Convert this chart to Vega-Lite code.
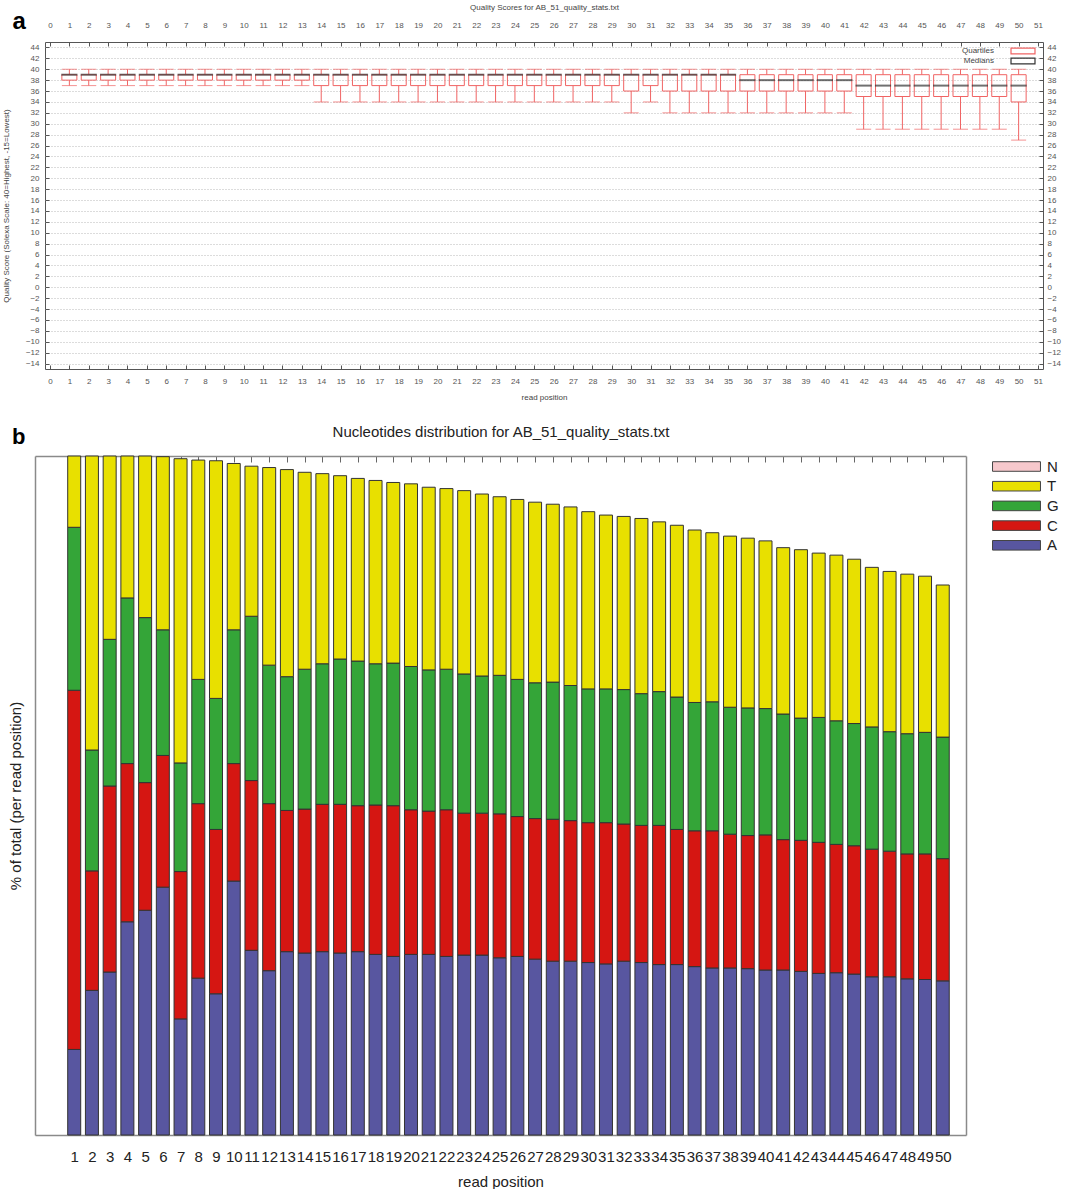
{
  "$schema": "https://vega.github.io/schema/vega-lite/v6.json",
  "padding": {"left": 1, "top": 2, "right": 5, "bottom": 0},
  "background": "white",
  "datasets": {
    "quality": [
      {"pos":1,"lw":37,"q1":38,"med":39,"q3":39,"uw":40},
      {"pos":2,"lw":37,"q1":38,"med":39,"q3":39,"uw":40},
      {"pos":3,"lw":37,"q1":38,"med":39,"q3":39,"uw":40},
      {"pos":4,"lw":37,"q1":38,"med":39,"q3":39,"uw":40},
      {"pos":5,"lw":37,"q1":38,"med":39,"q3":39,"uw":40},
      {"pos":6,"lw":37,"q1":38,"med":39,"q3":39,"uw":40},
      {"pos":7,"lw":37,"q1":38,"med":39,"q3":39,"uw":40},
      {"pos":8,"lw":37,"q1":38,"med":39,"q3":39,"uw":40},
      {"pos":9,"lw":37,"q1":38,"med":39,"q3":39,"uw":40},
      {"pos":10,"lw":37,"q1":38,"med":39,"q3":39,"uw":40},
      {"pos":11,"lw":37,"q1":38,"med":39,"q3":39,"uw":40},
      {"pos":12,"lw":37,"q1":38,"med":39,"q3":39,"uw":40},
      {"pos":13,"lw":37,"q1":38,"med":39,"q3":39,"uw":40},
      {"pos":14,"lw":34,"q1":37,"med":39,"q3":39,"uw":40},
      {"pos":15,"lw":34,"q1":37,"med":39,"q3":39,"uw":40},
      {"pos":16,"lw":34,"q1":37,"med":39,"q3":39,"uw":40},
      {"pos":17,"lw":34,"q1":37,"med":39,"q3":39,"uw":40},
      {"pos":18,"lw":34,"q1":37,"med":39,"q3":39,"uw":40},
      {"pos":19,"lw":34,"q1":37,"med":39,"q3":39,"uw":40},
      {"pos":20,"lw":34,"q1":37,"med":39,"q3":39,"uw":40},
      {"pos":21,"lw":34,"q1":37,"med":39,"q3":39,"uw":40},
      {"pos":22,"lw":34,"q1":37,"med":39,"q3":39,"uw":40},
      {"pos":23,"lw":34,"q1":37,"med":39,"q3":39,"uw":40},
      {"pos":24,"lw":34,"q1":37,"med":39,"q3":39,"uw":40},
      {"pos":25,"lw":34,"q1":37,"med":39,"q3":39,"uw":40},
      {"pos":26,"lw":34,"q1":37,"med":39,"q3":39,"uw":40},
      {"pos":27,"lw":34,"q1":37,"med":39,"q3":39,"uw":40},
      {"pos":28,"lw":34,"q1":37,"med":39,"q3":39,"uw":40},
      {"pos":29,"lw":34,"q1":37,"med":39,"q3":39,"uw":40},
      {"pos":30,"lw":32,"q1":36,"med":39,"q3":39,"uw":40},
      {"pos":31,"lw":34,"q1":37,"med":39,"q3":39,"uw":40},
      {"pos":32,"lw":32,"q1":36,"med":39,"q3":39,"uw":40},
      {"pos":33,"lw":32,"q1":36,"med":39,"q3":39,"uw":40},
      {"pos":34,"lw":32,"q1":36,"med":39,"q3":39,"uw":40},
      {"pos":35,"lw":32,"q1":36,"med":39,"q3":39,"uw":40},
      {"pos":36,"lw":32,"q1":36,"med":38,"q3":39,"uw":40},
      {"pos":37,"lw":32,"q1":36,"med":38,"q3":39,"uw":40},
      {"pos":38,"lw":32,"q1":36,"med":38,"q3":39,"uw":40},
      {"pos":39,"lw":32,"q1":36,"med":38,"q3":39,"uw":40},
      {"pos":40,"lw":32,"q1":36,"med":38,"q3":39,"uw":40},
      {"pos":41,"lw":32,"q1":36,"med":38,"q3":39,"uw":40},
      {"pos":42,"lw":29,"q1":35,"med":37,"q3":39,"uw":40},
      {"pos":43,"lw":29,"q1":35,"med":37,"q3":39,"uw":40},
      {"pos":44,"lw":29,"q1":35,"med":37,"q3":39,"uw":40},
      {"pos":45,"lw":29,"q1":35,"med":37,"q3":39,"uw":40},
      {"pos":46,"lw":29,"q1":35,"med":37,"q3":39,"uw":40},
      {"pos":47,"lw":29,"q1":35,"med":37,"q3":39,"uw":40},
      {"pos":48,"lw":29,"q1":35,"med":37,"q3":39,"uw":40},
      {"pos":49,"lw":29,"q1":35,"med":37,"q3":39,"uw":40},
      {"pos":50,"lw":27,"q1":34,"med":37,"q3":39,"uw":40}
    ],
    "nucleotides": [
      {"pos":1,"A":12.6,"C":52.9,"G":24.0,"T":10.5},
      {"pos":2,"A":21.3,"C":17.6,"G":17.8,"T":43.3},
      {"pos":3,"A":24.0,"C":27.4,"G":21.6,"T":27.0},
      {"pos":4,"A":31.4,"C":23.3,"G":24.4,"T":20.9},
      {"pos":5,"A":33.1,"C":18.8,"G":24.3,"T":23.8},
      {"pos":6,"A":36.5,"C":19.4,"G":18.5,"T":25.5},
      {"pos":7,"A":17.1,"C":21.7,"G":16.0,"T":44.8},
      {"pos":8,"A":23.1,"C":25.7,"G":18.3,"T":32.3},
      {"pos":9,"A":20.8,"C":24.2,"G":19.3,"T":35.0},
      {"pos":10,"A":37.4,"C":17.3,"G":19.7,"T":24.5},
      {"pos":11,"A":27.2,"C":25.0,"G":24.2,"T":22.1},
      {"pos":12,"A":24.2,"C":24.6,"G":20.4,"T":29.1},
      {"pos":13,"A":27.0,"C":20.8,"G":19.7,"T":30.5},
      {"pos":14,"A":26.8,"C":21.2,"G":20.6,"T":29.0},
      {"pos":15,"A":27.0,"C":21.7,"G":20.7,"T":28.0},
      {"pos":16,"A":26.8,"C":21.9,"G":21.4,"T":27.0},
      {"pos":17,"A":27.0,"C":21.5,"G":21.3,"T":26.9},
      {"pos":18,"A":26.6,"C":22.0,"G":20.8,"T":27.0},
      {"pos":19,"A":26.3,"C":22.2,"G":21.0,"T":26.6},
      {"pos":20,"A":26.6,"C":21.3,"G":21.1,"T":26.9},
      {"pos":21,"A":26.6,"C":21.1,"G":20.8,"T":26.9},
      {"pos":22,"A":26.3,"C":21.6,"G":20.7,"T":26.6},
      {"pos":23,"A":26.5,"C":20.9,"G":20.5,"T":27.0},
      {"pos":24,"A":26.5,"C":20.9,"G":20.2,"T":26.8},
      {"pos":25,"A":26.1,"C":21.2,"G":20.4,"T":26.3},
      {"pos":26,"A":26.3,"C":20.6,"G":20.2,"T":26.5},
      {"pos":27,"A":25.9,"C":20.7,"G":20.0,"T":26.6},
      {"pos":28,"A":25.6,"C":20.9,"G":20.2,"T":26.2},
      {"pos":29,"A":25.6,"C":20.7,"G":19.9,"T":26.3},
      {"pos":30,"A":25.4,"C":20.6,"G":19.7,"T":26.1},
      {"pos":31,"A":25.2,"C":20.8,"G":19.7,"T":25.6},
      {"pos":32,"A":25.6,"C":20.2,"G":19.8,"T":25.5},
      {"pos":33,"A":25.4,"C":20.2,"G":19.4,"T":25.8},
      {"pos":34,"A":25.1,"C":20.5,"G":19.7,"T":25.0},
      {"pos":35,"A":25.1,"C":19.9,"G":19.5,"T":25.3},
      {"pos":36,"A":24.8,"C":20.0,"G":18.9,"T":25.4},
      {"pos":37,"A":24.6,"C":20.2,"G":19.0,"T":24.9},
      {"pos":38,"A":24.6,"C":19.7,"G":18.7,"T":25.2},
      {"pos":39,"A":24.5,"C":19.6,"G":18.8,"T":25.0},
      {"pos":40,"A":24.3,"C":19.9,"G":18.6,"T":24.7},
      {"pos":41,"A":24.3,"C":19.2,"G":18.5,"T":24.5},
      {"pos":42,"A":24.1,"C":19.3,"G":18.0,"T":24.8},
      {"pos":43,"A":23.8,"C":19.3,"G":18.4,"T":24.2},
      {"pos":44,"A":23.9,"C":18.9,"G":18.2,"T":24.4},
      {"pos":45,"A":23.7,"C":18.9,"G":18.0,"T":24.2},
      {"pos":46,"A":23.3,"C":18.8,"G":18.0,"T":23.5},
      {"pos":47,"A":23.3,"C":18.5,"G":17.6,"T":23.6},
      {"pos":48,"A":23.0,"C":18.4,"G":17.7,"T":23.5},
      {"pos":49,"A":22.9,"C":18.5,"G":17.9,"T":23.0},
      {"pos":50,"A":22.7,"C":18.0,"G":17.9,"T":22.4}
    ]
  },
  "columns": 1,
  "align": "none",
  "spacing": 22,
  "resolve": {"scale": {"color": "independent"}, "legend": {"color": "independent"}},
  "concat": [
    {
      "width": 998,
      "height": 327,
      "title": {"text": "a", "anchor": "start", "frame": "bounds", "fontSize": 24, "fontWeight": "bold", "color": "#000", "offset": -31, "dx": 10},
      "data": {"name": "quality"},
      "view": {"stroke": "#555", "strokeWidth": 1},
      "layer": [
        {
          "mark": {"type": "rule", "color": "#f06464", "strokeWidth": 1},
          "encoding": {
            "x": {"field": "pos", "type": "quantitative", "scale": {"domain": [0, 51], "nice": false, "zero": false},
              "axis": {"orient": "bottom", "values": [0,1,2,3,4,5,6,7,8,9,10,11,12,13,14,15,16,17,18,19,20,21,22,23,24,25,26,27,28,29,30,31,32,33,34,35,36,37,38,39,40,41,42,43,44,45,46,47,48,49,50,51],
                "title": "read position", "titleFontSize": 8, "titleFontWeight": "normal", "titleColor": "#444", "titlePadding": 8,
                "labelFontSize": 8, "labelColor": "#555", "labelPadding": 12, "labelOverlap": false, "labelFlush": false,
                "tickSize": -4, "tickColor": "#555", "domain": false, "grid": false}},
            "y": {"field": "lw", "type": "quantitative", "scale": {"domain": [-15, 45], "nice": false, "zero": false},
              "axis": {"orient": "left", "values": [-14,-12,-10,-8,-6,-4,-2,0,2,4,6,8,10,12,14,16,18,20,22,24,26,28,30,32,34,36,38,40,42,44],
                "title": "Quality Score (Solexa Scale: 40=Highest, -15=Lowest)", "titleFontSize": 8, "titleFontWeight": "normal", "titleColor": "#444", "titlePadding": 15,
                "labelFontSize": 8, "labelColor": "#555", "labelPadding": 10, "labelOverlap": false, "labelFlush": false,
                "tickSize": -4, "tickColor": "#555", "domain": false,
                "grid": true, "gridColor": "#b8b8b8", "gridDash": [1, 2], "gridWidth": 1}},
            "y2": {"field": "q1"}
          }
        },
        {
          "mark": {"type": "rule", "color": "#f06464", "strokeWidth": 1},
          "encoding": {
            "x": {"field": "pos", "type": "quantitative",
              "axis": {"orient": "top", "values": [0,1,2,3,4,5,6,7,8,9,10,11,12,13,14,15,16,17,18,19,20,21,22,23,24,25,26,27,28,29,30,31,32,33,34,35,36,37,38,39,40,41,42,43,44,45,46,47,48,49,50,51],
                "title": "Quality Scores for AB_51_quality_stats.txt", "titleFontSize": 8, "titleFontWeight": "normal", "titleColor": "#444", "titlePadding": 10,
                "labelFontSize": 8, "labelColor": "#555", "labelPadding": 17, "labelOverlap": false, "labelFlush": false,
                "tickSize": -4, "tickColor": "#555", "domain": false, "grid": false}},
            "y": {"field": "q3", "type": "quantitative",
              "axis": {"orient": "right", "values": [-14,-12,-10,-8,-6,-4,-2,0,2,4,6,8,10,12,14,16,18,20,22,24,26,28,30,32,34,36,38,40,42,44],
                "title": null, "labelFontSize": 8, "labelColor": "#555", "labelPadding": 8, "labelOverlap": false, "labelFlush": false,
                "tickSize": -4, "tickColor": "#555", "domain": false, "grid": false}},
            "y2": {"field": "uw"}
          }
        },
        {
          "mark": {"type": "tick", "orient": "horizontal", "size": 15, "thickness": 1, "color": "#f06464"},
          "encoding": {
            "x": {"field": "pos", "type": "quantitative", "axis": null},
            "y": {"field": "lw", "type": "quantitative", "axis": null}
          }
        },
        {
          "mark": {"type": "tick", "orient": "horizontal", "size": 15, "thickness": 1, "color": "#f06464"},
          "encoding": {
            "x": {"field": "pos", "type": "quantitative", "axis": null},
            "y": {"field": "uw", "type": "quantitative", "axis": null}
          }
        },
        {
          "mark": {"type": "bar", "width": 15, "filled": false, "strokeWidth": 1},
          "encoding": {
            "x": {"field": "pos", "type": "quantitative", "axis": null},
            "y": {"field": "q1", "type": "quantitative", "axis": null},
            "y2": {"field": "q3"},
            "color": {"datum": "Quartiles", "type": "nominal",
              "scale": {"domain": ["Quartiles", "Medians"], "range": ["#f06464", "#333333"]},
              "legend": {"title": null, "orient": "top-right", "offset": 5, "symbolType": "M-5,-1.2H5V1.2H-5Z", "symbolSize": 23, "symbolStrokeWidth": 1.2,
                "labelFontSize": 8, "labelColor": "#444", "labelAlign": "right", "labelOffset": -33, "rowPadding": -2}}
          }
        },
        {
          "mark": {"type": "tick", "orient": "horizontal", "size": 15, "thickness": 0.8, "filled": false, "strokeWidth": 1.2},
          "encoding": {
            "x": {"field": "pos", "type": "quantitative", "axis": null},
            "y": {"field": "med", "type": "quantitative", "axis": null},
            "color": {"datum": "Medians", "type": "nominal"}
          }
        }
      ],
      "resolve": {"axis": {"x": "independent", "y": "independent"}}
    },
    {
      "width": 921,
      "height": 679,
      "title": {"text": "b", "anchor": "start", "frame": "bounds", "fontSize": 22, "fontWeight": "bold", "color": "#000", "offset": -24, "dx": 4},
      "data": {"name": "nucleotides"},
      "transform": [{"fold": ["A", "C", "G", "T"], "as": ["base", "pct"]}],
      "view": {"stroke": null},
      "layer": [
        {
          "mark": {"type": "bar", "width": 13, "stroke": "#333333", "strokeWidth": 1},
          "encoding": {
            "x": {"field": "pos", "type": "quantitative", "scale": {"domain": [-0.93, 51.03], "range": [-10, 921], "nice": false, "zero": false},
              "axis": {"orient": "bottom", "values": [1,2,3,4,5,6,7,8,9,10,11,12,13,14,15,16,17,18,19,20,21,22,23,24,25,26,27,28,29,30,31,32,33,34,35,36,37,38,39,40,41,42,43,44,45,46,47,48,49,50],
                "ticks": false, "domain": true, "domainColor": "#8a8a8a", "domainWidth": 1.5, "grid": false, "labelFontSize": 15, "labelColor": "#222", "labelPadding": 14, "labelOverlap": false, "labelFlush": false,
                "title": "read position", "titleFontSize": 15, "titleFontWeight": "normal", "titleColor": "#222", "titlePadding": 10}},
            "y": {"field": "pct", "type": "quantitative", "stack": "zero", "scale": {"domain": [0, 100], "nice": false},
              "axis": {"orient": "left", "offset": 10, "labels": false, "ticks": false, "domain": true, "domainColor": "#8a8a8a", "domainWidth": 1.5, "grid": false, "title": "% of total (per read position)", "titleFontSize": 15, "titleFontWeight": "normal", "titleColor": "#222", "titlePadding": 12}},
            "color": {"field": "base", "type": "nominal",
              "scale": {"domain": ["N", "T", "G", "C", "A"], "range": ["#f6c8cc", "#e8e000", "#34a538", "#d51612", "#5856a0"]},
              "legend": {"title": null, "orient": "right", "offset": 40, "padding": 3, "symbolType": "M-5,-1H5V1H-5Z", "symbolSize": 92, "symbolStrokeColor": "#444", "symbolStrokeWidth": 1, "symbolOpacity": 1,
                "labelFontSize": 15, "labelColor": "#222", "labelOffset": 23, "rowPadding": 3.7}},
            "order": {"field": "base", "sort": "ascending"}
          }
        },
        {
          "mark": {"type": "point", "opacity": 0},
          "encoding": {
            "x": {"field": "pos", "type": "quantitative",
              "axis": {"orient": "top", "values": [1,2,3,4,5,6,7,8,9,10,11,12,13,14,15,16,17,18,19,20,21,22,23,24,25,26,27,28,29,30,31,32,33,34,35,36,37,38,39,40,41,42,43,44,45,46,47,48,49,50],
                "labels": false, "domain": true, "domainColor": "#8a8a8a", "domainWidth": 1.5, "grid": false, "tickSize": -6, "tickColor": "#666",
                "title": "Nucleotides distribution for AB_51_quality_stats.txt", "titleFontSize": 15, "titleFontWeight": "normal", "titleColor": "#222", "titlePadding": 16}},
            "y": {"field": "pct", "type": "quantitative",
              "axis": {"orient": "right", "labels": false, "ticks": false, "title": null, "grid": false, "domain": true, "domainColor": "#8a8a8a", "domainWidth": 1.5}}
          }
        }
      ],
      "resolve": {"axis": {"x": "independent", "y": "independent"}}
    }
  ],
  "config": {
    "font": "Liberation Sans",
    "axis": {"domain": false}
  }
}
